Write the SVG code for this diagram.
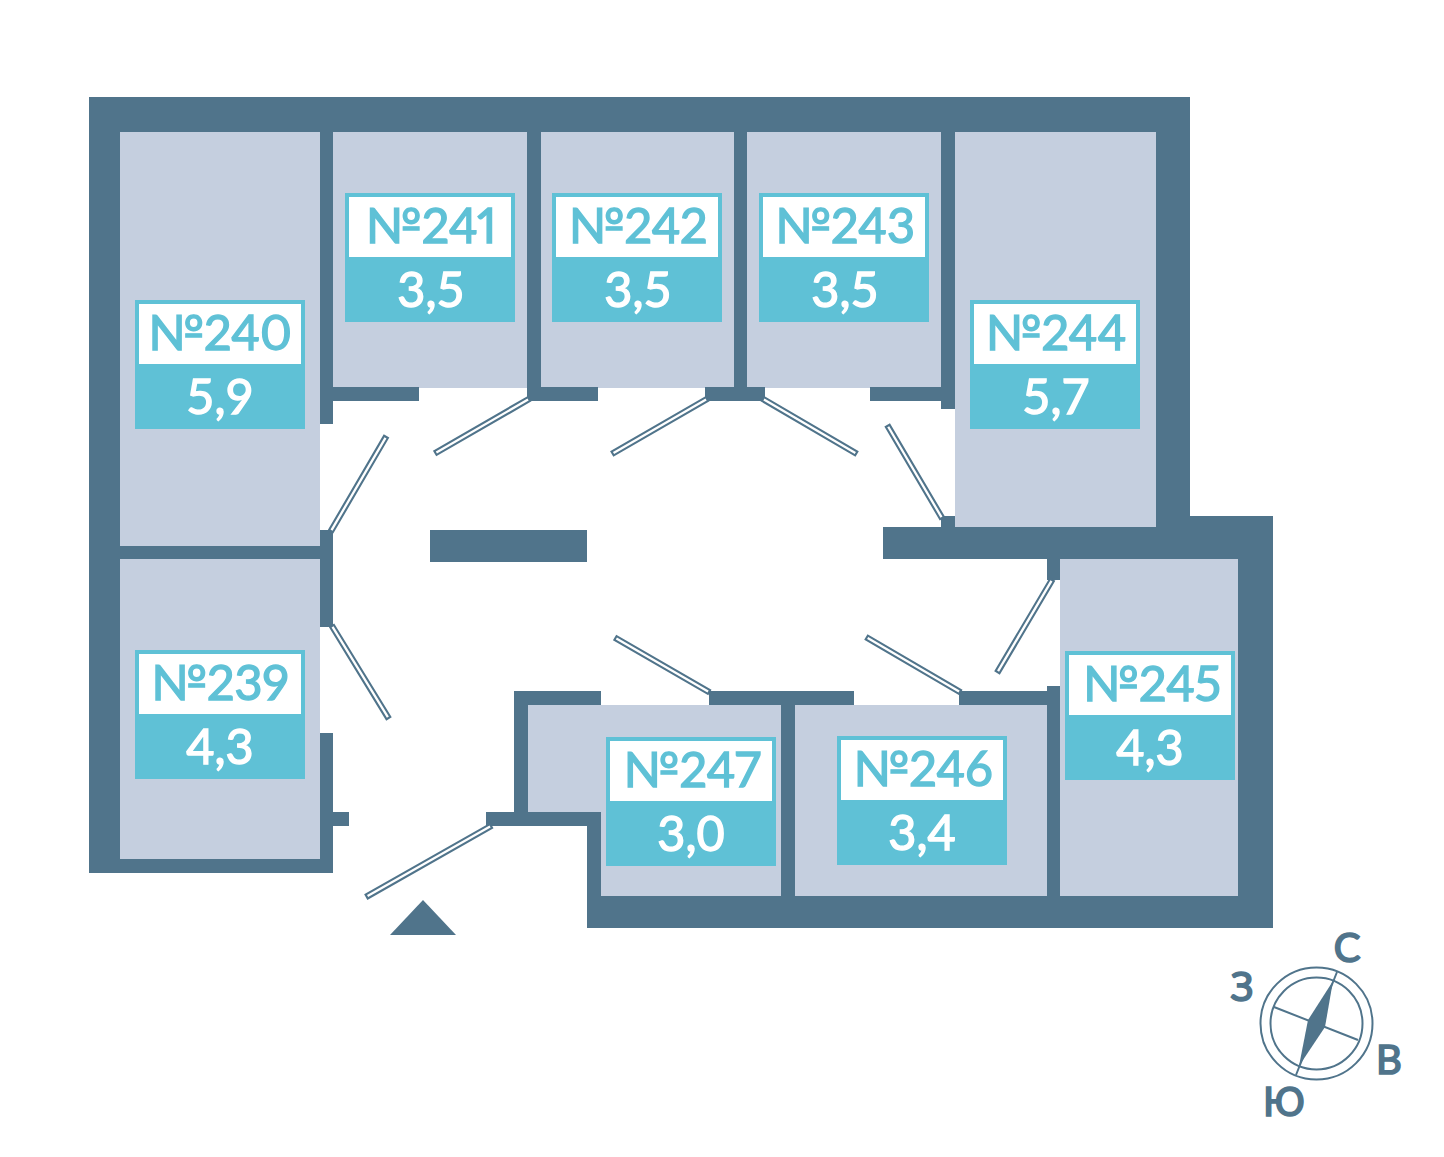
<svg xmlns="http://www.w3.org/2000/svg" width="1444" height="1157" viewBox="0 0 1444 1157">
<style>
.w{fill:#50748b}.r{fill:#c5cfdf}.c{fill:#5fc1d6}.i{fill:#fff}
.d{fill:#fff;stroke:#50748b;stroke-width:2.1}
.n,.v,.l{font-family:Lato,"Open Sans","Liberation Sans",sans-serif;text-anchor:middle}
.n{font-size:48.5px;fill:#5fc1d6;stroke:#5fc1d6;stroke-width:1.4;font-variant-numeric:proportional-nums}.v{font-size:48.5px;fill:#fff;stroke:#fff;stroke-width:1.4}
.l{font-size:40px;fill:#50748b;stroke:#50748b;stroke-width:1.7}
.o{fill:none;stroke:#50748b;stroke-width:2}
</style>
<rect width="1444" height="1157" fill="#fff"/>
<g id="rooms">
<rect class="r" x="120" y="132" width="200" height="414"/>
<rect class="r" x="120" y="559" width="200" height="300"/>
<rect class="r" x="333" y="132" width="194" height="256"/>
<rect class="r" x="541" y="132" width="193" height="256"/>
<rect class="r" x="747" y="132" width="194" height="256"/>
<rect class="r" x="955" y="132" width="201" height="395"/>
<rect class="r" x="1060" y="559" width="178" height="337"/>
<rect class="r" x="795" y="705" width="252" height="191"/>
<rect class="r" x="528" y="705" width="253" height="107"/>
<rect class="r" x="601" y="705" width="180" height="191"/>
</g>
<g id="walls">
<rect class="w" x="89" y="97" width="1101" height="35"/>
<rect class="w" x="89" y="97" width="31" height="776"/>
<rect class="w" x="89" y="859" width="244" height="14"/>
<rect class="w" x="1156" y="97" width="34" height="430"/>
<rect class="w" x="883" y="527" width="390" height="32"/>
<rect class="w" x="1156" y="516" width="117" height="43"/>
<rect class="w" x="1238" y="516" width="35" height="412"/>
<rect class="w" x="587" y="896" width="686" height="32"/>
<rect class="w" x="320" y="132" width="13" height="292"/>
<rect class="w" x="333" y="387" width="86" height="14"/>
<rect class="w" x="527" y="132" width="14" height="269"/>
<rect class="w" x="527" y="387" width="71" height="14"/>
<rect class="w" x="734" y="132" width="13" height="269"/>
<rect class="w" x="705" y="387" width="60" height="14"/>
<rect class="w" x="941" y="132" width="14" height="277"/>
<rect class="w" x="870" y="387" width="71" height="14"/>
<rect class="w" x="941" y="516" width="14" height="11"/>
<rect class="w" x="120" y="546" width="200" height="13"/>
<rect class="w" x="320" y="530" width="13" height="97"/>
<rect class="w" x="430" y="530" width="157" height="32"/>
<rect class="w" x="320" y="733" width="13" height="140"/>
<rect class="w" x="333" y="812" width="16" height="14"/>
<rect class="w" x="486" y="812" width="115" height="14"/>
<rect class="w" x="514" y="691" width="14" height="121"/>
<rect class="w" x="514" y="691" width="87" height="14"/>
<rect class="w" x="587" y="812" width="14" height="84"/>
<rect class="w" x="709" y="691" width="145" height="14"/>
<rect class="w" x="781" y="691" width="14" height="205"/>
<rect class="w" x="959" y="691" width="88" height="14"/>
<rect class="w" x="1047" y="686" width="13" height="210"/>
<rect class="w" x="1047" y="559" width="13" height="21"/>
<path class="w" d="M423 900L456 935H390Z"/>
</g>
<g id="connectors">
<rect class="d" x="0" y="-2.2" width="109" height="4.4" transform="translate(331 531) rotate(-59.7)"/>
<rect class="d" x="0" y="-2.2" width="108" height="4.4" transform="translate(529 399) rotate(150)"/>
<rect class="d" x="0" y="-2.2" width="109" height="4.4" transform="translate(707 399) rotate(150)"/>
<rect class="d" x="0" y="-2.2" width="108" height="4.4" transform="translate(763 399) rotate(30.3)"/>
<rect class="d" x="0" y="-2.2" width="107" height="4.4" transform="translate(942 518) rotate(-120.5)"/>
<rect class="d" x="0" y="-2.2" width="107" height="4.4" transform="translate(1052 580) rotate(120.6)"/>
<rect class="d" x="0" y="-2.2" width="108" height="4.4" transform="translate(960 692) rotate(-149.7)"/>
<rect class="d" x="0" y="-2.2" width="108" height="4.4" transform="translate(709 692) rotate(-150)"/>
<rect class="d" x="0" y="-2.2" width="108" height="4.4" transform="translate(332 626) rotate(58.5)"/>
<rect class="d" x="0" y="-2.2" width="143" height="4.4" transform="translate(491 826) rotate(150.4)"/>
</g>
<g id="n240"><rect class="c" x="135" y="300" width="170" height="129"/><rect class="i" x="139" y="304" width="162" height="60"/><text class="n" x="220" y="350">№240</text><text class="v" x="220" y="414">5,9</text></g>
<g id="n241"><rect class="c" x="345" y="193" width="170" height="129"/><rect class="i" x="349" y="197" width="162" height="60"/><text class="n" x="431" y="243">№241</text><text class="v" x="431" y="307">3,5</text></g>
<g id="n242"><rect class="c" x="552" y="193" width="170" height="129"/><rect class="i" x="556" y="197" width="162" height="60"/><text class="n" x="638" y="243">№242</text><text class="v" x="638" y="307">3,5</text></g>
<g id="n243"><rect class="c" x="759" y="193" width="170" height="129"/><rect class="i" x="763" y="197" width="162" height="60"/><text class="n" x="845" y="243">№243</text><text class="v" x="845" y="307">3,5</text></g>
<g id="n244"><rect class="c" x="970" y="300" width="170" height="129"/><rect class="i" x="974" y="304" width="162" height="60"/><text class="n" x="1056" y="350">№244</text><text class="v" x="1056" y="414">5,7</text></g>
<g id="n239"><rect class="c" x="135" y="650" width="170" height="129"/><rect class="i" x="139" y="654" width="162" height="60"/><text class="n" x="220" y="700">№239</text><text class="v" x="220" y="764">4,3</text></g>
<g id="n245"><rect class="c" x="1065" y="651" width="170" height="129"/><rect class="i" x="1069" y="655" width="162" height="60"/><text class="n" x="1152" y="701">№245</text><text class="v" x="1150" y="765">4,3</text></g>
<g id="n246"><rect class="c" x="837" y="736" width="170" height="129"/><rect class="i" x="841" y="740" width="162" height="60"/><text class="n" x="923" y="786">№246</text><text class="v" x="922" y="850">3,4</text></g>
<g id="n247"><rect class="c" x="606" y="737" width="170" height="129"/><rect class="i" x="610" y="741" width="162" height="60"/><text class="n" x="692" y="787">№247</text><text class="v" x="691" y="851">3,0</text></g>
<g id="compass">
<circle class="o" cx="1316.5" cy="1023.5" r="56"/>
<circle class="o" cx="1316.5" cy="1023.5" r="46"/>
<path class="o" d="M1337 972L1296 1075M1274 1007L1358 1040"/>
<path class="w" d="M1333 981L1308 1020L1299 1066L1325 1027Z"/>
<text class="l" x="1347" y="962">С</text>
<text class="l" x="1242" y="1001">З</text>
<text class="l" x="1389" y="1074">В</text>
<text class="l" x="1284" y="1116">Ю</text>
</g>
</svg>
